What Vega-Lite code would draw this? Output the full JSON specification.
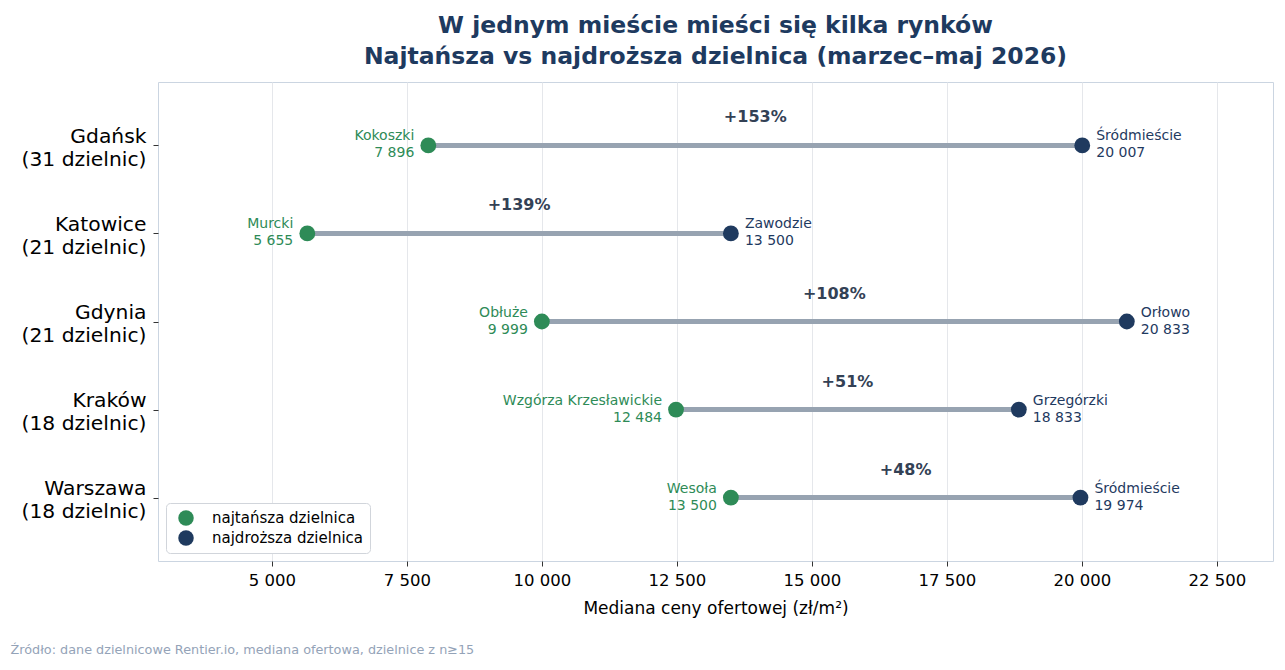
{
  "$schema": "https://vega.github.io/schema/vega-lite/v6.json",
  "autosize": {"type": "pad"},
  "padding": {"left": 10, "top": 13, "right": 12, "bottom": 8},
  "background": "white",
  "config": {
    "font": "DejaVu Sans",
    "locale": {"number": {"decimal": ",", "thousands": " ", "grouping": [3], "currency": ["", " zł"]}},
    "view": {"stroke": "#cbd5e1", "strokeWidth": 1}
  },
  "title": {
    "text": "Źródło: dane dzielnicowe Rentier.io, mediana ofertowa, dzielnice z n≥15",
    "orient": "bottom",
    "anchor": "start",
    "frame": "bounds",
    "dx": -10,
    "offset": 27,
    "fontSize": 12.8,
    "fontWeight": "normal",
    "color": "#94a3b8"
  },
  "resolve": {"legend": {"color": "independent"}},
  "datasets": {
    "points": [
      {"city": "Gdańsk\n(31 dzielnic)", "kind": "najtańsza dzielnica", "district": "Kokoszki", "price": 7896, "spread": 1.5338},
      {"city": "Gdańsk\n(31 dzielnic)", "kind": "najdroższa dzielnica", "district": "Śródmieście", "price": 20007, "spread": 1.5338},
      {"city": "Katowice\n(21 dzielnic)", "kind": "najtańsza dzielnica", "district": "Murcki", "price": 5655, "spread": 1.3873},
      {"city": "Katowice\n(21 dzielnic)", "kind": "najdroższa dzielnica", "district": "Zawodzie", "price": 13500, "spread": 1.3873},
      {"city": "Gdynia\n(21 dzielnic)", "kind": "najtańsza dzielnica", "district": "Obłuże", "price": 9999, "spread": 1.0835},
      {"city": "Gdynia\n(21 dzielnic)", "kind": "najdroższa dzielnica", "district": "Orłowo", "price": 20833, "spread": 1.0835},
      {"city": "Kraków\n(18 dzielnic)", "kind": "najtańsza dzielnica", "district": "Wzgórza Krzesławickie", "price": 12484, "spread": 0.5086},
      {"city": "Kraków\n(18 dzielnic)", "kind": "najdroższa dzielnica", "district": "Grzegórzki", "price": 18833, "spread": 0.5086},
      {"city": "Warszawa\n(18 dzielnic)", "kind": "najtańsza dzielnica", "district": "Wesoła", "price": 13500, "spread": 0.4796},
      {"city": "Warszawa\n(18 dzielnic)", "kind": "najdroższa dzielnica", "district": "Śródmieście", "price": 19974, "spread": 0.4796}
    ]
  },
  "vconcat": [
    {
      "width": 1115,
      "height": 479,
      "title": {
        "text": ["W jednym mieście mieści się kilka rynków", "Najtańsza vs najdroższa dzielnica (marzec–maj 2026)"],
        "anchor": "middle",
        "frame": "group",
        "fontSize": 23.5,
        "fontWeight": "bold",
        "color": "#1e3a5f",
        "lineHeight": 31,
        "offset": 14
      },
      "data": {"name": "points"},
      "encoding": {
        "y": {
          "field": "city",
          "type": "nominal",
          "sort": ["Gdańsk\n(31 dzielnic)", "Katowice\n(21 dzielnic)", "Gdynia\n(21 dzielnic)", "Kraków\n(18 dzielnic)", "Warszawa\n(18 dzielnic)"],
          "scale": {"type": "point", "padding": 0.72},
          "axis": {
            "title": null,
            "domain": false,
            "grid": false,
            "ticks": true,
            "tickSize": 5,
            "tickColor": "#333333",
            "labelPadding": 7,
            "labelFontSize": 20.3,
            "labelColor": "#000000",
            "labelLineHeight": 23,
            "labelOffset": -9,
            "labelExpr": "split(datum.label, '\\n')"
          }
        }
      },
      "layer": [
        {
          "mark": {"type": "rule", "strokeWidth": 5, "color": "#97a3b1"},
          "encoding": {
            "x": {
              "aggregate": "min",
              "field": "price",
              "type": "quantitative",
              "scale": {"domain": [2890, 23540], "nice": false, "zero": false},
              "axis": {
                "title": "Mediana ceny ofertowej (zł/m²)",
                "values": [5000, 7500, 10000, 12500, 15000, 17500, 20000, 22500],
                "format": ",d",
                "domain": false,
                "grid": true,
                "gridColor": "#e5e7eb",
                "gridWidth": 1,
                "tickSize": 5,
                "tickColor": "#333333",
                "labelPadding": 6,
                "labelFontSize": 16.5,
                "labelColor": "#000000",
                "titleFontSize": 17,
                "titleFontWeight": "normal",
                "titleColor": "#000000",
                "titlePadding": 12
              }
            },
            "x2": {"aggregate": "max", "field": "price"}
          }
        },
        {
          "mark": {"type": "circle", "size": 250, "opacity": 1},
          "encoding": {
            "x": {"field": "price", "type": "quantitative"},
            "color": {
              "field": "kind",
              "type": "nominal",
              "scale": {"domain": ["najtańsza dzielnica", "najdroższa dzielnica"], "range": ["#2e8b57", "#1f3a5f"]},
              "legend": {
                "title": null,
                "orient": "bottom-left",
                "offset": 8,
                "fillColor": "white",
                "strokeColor": "#d1d5db",
                "cornerRadius": 4,
                "padding": 7,
                "symbolOffset": 5,
                "symbolType": "circle",
                "symbolSize": 240,
                "symbolOpacity": 1,
                "symbolStrokeWidth": 0,
                "labelFontSize": 15,
                "labelColor": "#000000",
                "labelOffset": 18,
                "rowPadding": 4
              }
            }
          }
        },
        {
          "transform": [{"filter": "datum.kind === 'najtańsza dzielnica'"}],
          "mark": {"type": "text", "align": "right", "baseline": "middle", "dx": -14, "dy": -9, "fontSize": 14, "color": "#2e8b57"},
          "encoding": {"x": {"field": "price", "type": "quantitative"}, "text": {"field": "district"}}
        },
        {
          "transform": [{"filter": "datum.kind === 'najtańsza dzielnica'"}],
          "mark": {"type": "text", "align": "right", "baseline": "middle", "dx": -14, "dy": 8, "fontSize": 14, "color": "#2e8b57"},
          "encoding": {"x": {"field": "price", "type": "quantitative"}, "text": {"field": "price", "type": "quantitative", "format": ",d"}}
        },
        {
          "transform": [{"filter": "datum.kind === 'najdroższa dzielnica'"}],
          "mark": {"type": "text", "align": "left", "baseline": "middle", "dx": 14, "dy": -9, "fontSize": 14, "color": "#1f3a5f"},
          "encoding": {"x": {"field": "price", "type": "quantitative"}, "text": {"field": "district"}}
        },
        {
          "transform": [{"filter": "datum.kind === 'najdroższa dzielnica'"}],
          "mark": {"type": "text", "align": "left", "baseline": "middle", "dx": 14, "dy": 8, "fontSize": 14, "color": "#1f3a5f"},
          "encoding": {"x": {"field": "price", "type": "quantitative"}, "text": {"field": "price", "type": "quantitative", "format": ",d"}}
        },
        {
          "mark": {"type": "text", "align": "center", "baseline": "middle", "dy": -28, "fontSize": 16, "fontWeight": "bold", "color": "#334155"},
          "encoding": {
            "x": {"aggregate": "mean", "field": "price", "type": "quantitative"},
            "text": {"aggregate": "max", "field": "spread", "type": "quantitative", "format": "+.0%"}
          }
        }
      ]
    }
  ]
}
